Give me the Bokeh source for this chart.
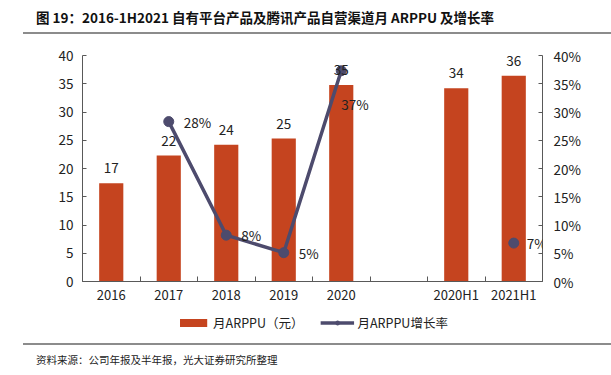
import math
from bokeh.plotting import figure
from bokeh.models import (ColumnDataSource, Range1d, LinearAxis, FixedTicker,
                          NumeralTickFormatter, LabelSet, Legend, LegendItem, Div)
from bokeh.core.properties import value
from bokeh.layouts import column
from bokeh.embed import file_html
from bokeh.resources import INLINE

# ---------------- data ----------------
categories = ["2016", "2017", "2018", "2019", "2020", "", "2020H1", "2021H1"]
arppu = [17.4, 22.3, 24.2, 25.3, 34.8, None, 34.2, 36.4]          # 月ARPPU（元）
growth = [None, 0.283, 0.082, 0.051, 0.373, None, None, 0.068]     # 月ARPPU增长率
left_ticks = [0, 5, 10, 15, 20, 25, 30, 35, 40]
right_ticks = [0, 0.05, 0.10, 0.15, 0.20, 0.25, 0.30, 0.35, 0.40]

title_text = "图 19：2016-1H2021 自有平台产品及腾讯产品自营渠道月 ARPPU 及增长率"
source_text = "资料来源：公司年报及半年报，光大证券研究所整理"
bar_label = "月ARPPU（元）"
line_label = "月ARPPU增长率"

# label placement (style only)
growth_dx = [0, 15, 15, 15, 0, 0, 0, 13]
growth_dy = [0, 0, 0, 0, -33, 0, 0, 0]

FONT = "Noto Sans CJK SC"
BAR = "#C5441F"
LINE = "#4D4B6D"
AXIS = "#595959"
TXT = "#222222"

# ---------------- sources ----------------
centers = [i + 0.5 for i in range(len(categories))]
bar_src = ColumnDataSource(dict(
    x=[c for c, v in zip(centers, arppu) if v is not None],
    y=[v for v in arppu if v is not None],
    t=[f"{v:.0f}" for v in arppu if v is not None],
))
line_src = ColumnDataSource(dict(
    x=centers,
    y=[float("nan") if g is None else g for g in growth],
))
gidx = [i for i, g in enumerate(growth) if g is not None]
pt_src = ColumnDataSource(dict(
    x=[centers[i] for i in gidx],
    y=[growth[i] for i in gidx],
    t=[f"{growth[i]*100:.0f}%" for i in gidx],
    dx=[growth_dx[i] for i in gidx],
    dy=[growth_dy[i] for i in gidx],
))

# ---------------- main figure ----------------
p = figure(width=611, height=272, output_backend="svg", toolbar_location=None,
           x_range=Range1d(0, len(categories)), y_range=Range1d(left_ticks[0], left_ticks[-1]),
           min_border_left=82, min_border_right=69, min_border_top=21, min_border_bottom=24,
           sizing_mode="fixed")
p.outline_line_color = None
p.grid.visible = False
p.background_fill_color = "white"
p.border_fill_color = "white"
p.extra_y_ranges = {"pct": Range1d(right_ticks[0], right_ticks[-1])}

# x axis
xa = p.xaxis[0]
xa.ticker = FixedTicker(ticks=centers, minor_ticks=list(range(len(categories) + 1)))
xa.major_label_overrides = {c: lab for c, lab in zip(centers, categories)}
xa.major_tick_line_color = None
xa.major_tick_in = 0
xa.major_tick_out = 0
xa.minor_tick_in = 5
xa.minor_tick_out = 0
xa.minor_tick_line_color = AXIS
xa.axis_line_color = AXIS
xa.major_label_text_font = FONT
xa.major_label_text_font_size = "13px"
xa.major_label_text_color = TXT
xa.major_label_standoff = 3

# left axis
ya = p.yaxis[0]
ya.ticker = FixedTicker(ticks=left_ticks)
ya.major_tick_in = 4
ya.major_tick_out = 0
ya.minor_tick_line_color = None
ya.axis_line_color = AXIS
ya.major_tick_line_color = AXIS
ya.major_label_text_font = FONT
ya.major_label_text_font_size = "13.5px"
ya.major_label_text_color = TXT
ya.major_label_standoff = 9

# right axis
ra = LinearAxis(y_range_name="pct", ticker=FixedTicker(ticks=right_ticks),
                formatter=NumeralTickFormatter(format="0%"))
ra.major_tick_in = 4
ra.major_tick_out = 0
ra.minor_tick_line_color = None
ra.axis_line_color = AXIS
ra.major_tick_line_color = AXIS
ra.major_label_text_font = FONT
ra.major_label_text_font_size = "13.5px"
ra.major_label_text_color = TXT
ra.major_label_standoff = 11
p.add_layout(ra, "right")

# bars
p.vbar(x="x", top="y", width=0.42, source=bar_src, fill_color=BAR, line_color=None)
p.add_layout(LabelSet(x="x", y="y", text="t", source=bar_src, y_offset=15,
                      text_align="center", text_baseline="middle",
                      text_font=value(FONT), text_font_size=value("13.5px"), text_color=TXT))

# line
p.line(x="x", y="y", source=line_src, y_range_name="pct", line_color=LINE, line_width=3.5)
p.scatter(x="x", y="y", source=pt_src, y_range_name="pct", marker="circle", size=10,
          fill_color=LINE, line_color=LINE)
p.add_layout(LabelSet(x="x", y="y", text="t", source=pt_src, y_range_name="pct",
                      x_offset="dx", y_offset="dy", text_align="left", text_baseline="middle",
                      text_font=value(FONT), text_font_size=value("13.5px"), text_color=TXT))

# ---------------- legend strip (same series, renderers hidden) ----------------
lg = figure(width=611, height=32, output_backend="svg", toolbar_location=None,
            x_range=Range1d(0, 1), y_range=Range1d(0, 1), x_axis_type=None, y_axis_type=None,
            min_border_left=44, min_border_right=0, min_border_top=0, min_border_bottom=0,
            sizing_mode="fixed")
lg.outline_line_color = None
lg.grid.visible = False
lg_bar = lg.vbar(x="x", top="y", width=0.42, source=bar_src, fill_color=BAR, line_color=None,
                 visible=False)
lg_line = lg.line(x="x", y="y", source=line_src, line_color=LINE, line_width=3.5, visible=False)
lg_pts = lg.scatter(x="x", y="y", source=pt_src, marker="circle", size=10,
                    fill_color=LINE, line_color=LINE, visible=False)
legend = Legend(items=[LegendItem(label=bar_label, renderers=[lg_bar]),
                       LegendItem(label=line_label, renderers=[lg_line, lg_pts])],
                orientation="horizontal", location="center",
                glyph_width=34, glyph_height=10, label_standoff=3, spacing=17,
                label_text_font=FONT, label_text_font_size="12.5px", label_text_color=TXT,
                border_line_color=None, background_fill_alpha=0, margin=0, padding=4,
                inactive_fill_alpha=0)
lg.add_layout(legend, "center")

# ---------------- title / source ----------------
title_div = Div(
    text=(f'<div style="box-sizing:border-box;width:588px;margin-left:23px;'
          f'padding:8px 0 6px 13px;border-bottom:2px solid #8c8c8c;'
          f"font-family:'{FONT}';font-weight:bold;font-size:13.5px;line-height:18px;color:#111;"
          f'white-space:nowrap;">{title_text}</div>'),
    width=611, height=34, margin=(0, 0, 0, 0))
src_div = Div(
    text=(f'<div style="box-sizing:border-box;width:588px;margin-left:23px;margin-top:5px;'
          f'padding:8px 0 0 13px;border-top:2px solid #8c8c8c;'
          f"font-family:'{FONT}';font-size:10.5px;line-height:14px;color:#222;"
          f'white-space:nowrap;">{source_text}</div>'),
    width=611, height=35, margin=(0, 0, 0, 0))

layout = column(title_div, p, lg, src_div, spacing=0)
open("out.html", "w").write(file_html(layout, INLINE))
